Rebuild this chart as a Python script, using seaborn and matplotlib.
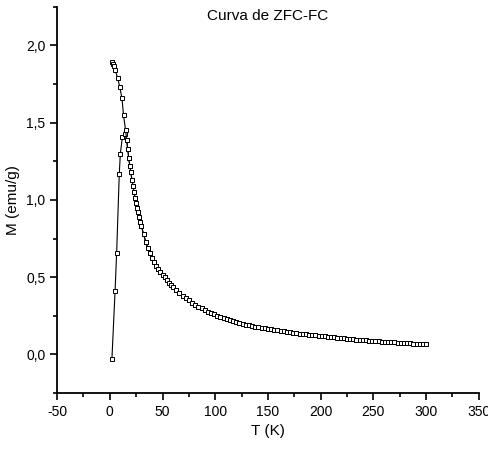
import numpy as np
import pandas as pd
import matplotlib
matplotlib.use("Agg")
import matplotlib.pyplot as plt
import seaborn as sns
from matplotlib.ticker import FuncFormatter, MultipleLocator

# ==============================
# DATA
# ==============================
# ZFC, low temperature branch (below the blocking peak)
T_zfc_low = [2, 5, 6.5, 9, 10, 12, 14]
M_zfc_low = [-0.03, 0.41, 0.66, 1.17, 1.30, 1.41, 1.43]

# FC, low temperature branch
T_fc_low = [2, 2.6, 4, 5, 7.5, 9.5, 11.5, 13, 15]
M_fc_low = [1.89, 1.88, 1.87, 1.84, 1.79, 1.73, 1.66, 1.55, 1.45]

# common tail where ZFC and FC overlap
T_tail = [16, 17, 18, 19, 20, 21, 22, 23, 24, 25, 26, 27, 28, 29, 30,
          32, 34, 36, 38, 40, 42, 44, 46, 48, 50, 52, 54, 56, 58, 60,
          63, 66, 69, 72, 75, 78, 81, 84, 87, 90, 93, 96, 99, 102, 105,
          108, 111, 114, 117, 120, 123, 126, 129, 132, 135, 138, 141, 144,
          147, 150, 153, 156, 159, 162, 165, 168, 171, 174, 177, 180, 183,
          186, 189, 192, 195, 198, 201, 204, 207, 210, 213, 216, 219, 222,
          225, 228, 231, 234, 237, 240, 243, 246, 249, 252, 255, 258, 261,
          264, 267, 270, 273, 276, 279, 282, 285, 288, 291, 294, 297, 300]
M_tail = [1.39, 1.33, 1.27, 1.22, 1.18, 1.13, 1.09, 1.05, 1.01, 0.98, 0.95,
          0.92, 0.89, 0.86, 0.83,
          0.78, 0.73, 0.69, 0.655, 0.625, 0.60, 0.575, 0.555, 0.535, 0.515,
          0.50, 0.48, 0.465, 0.45, 0.435,
          0.415, 0.40, 0.38, 0.365, 0.35, 0.335, 0.322, 0.31, 0.298, 0.288,
          0.278, 0.268, 0.259, 0.250, 0.242, 0.235, 0.228, 0.221, 0.215,
          0.209, 0.204, 0.199, 0.194, 0.189, 0.185, 0.181, 0.177, 0.173,
          0.169, 0.166, 0.162, 0.159, 0.156, 0.153, 0.150, 0.147, 0.144,
          0.141, 0.138, 0.135, 0.132, 0.130, 0.127, 0.125, 0.123, 0.121,
          0.119, 0.117, 0.115, 0.113, 0.111, 0.109, 0.107, 0.105, 0.103,
          0.101, 0.099, 0.097, 0.095, 0.094, 0.092, 0.090, 0.089, 0.087,
          0.086, 0.084, 0.083, 0.081, 0.080, 0.078, 0.077, 0.076, 0.074,
          0.073, 0.072, 0.071, 0.069, 0.068, 0.067, 0.066]

zfc = pd.DataFrame({"T": T_zfc_low + T_tail, "M": M_zfc_low + M_tail})
fc = pd.DataFrame({"T": T_fc_low + T_tail, "M": M_fc_low + M_tail})

# ==============================
# STYLE
# ==============================
sns.set_style("ticks")
plt.rcParams['font.family'] = ['Liberation Sans', 'DejaVu Sans']
plt.rcParams.update({"text.color": "black", "axes.labelcolor": "black",
                     "xtick.color": "black", "ytick.color": "black",
                     "axes.edgecolor": "black"})

fig = plt.figure(figsize=(4.88, 4.55), dpi=100)
ax = fig.add_axes([0.117, 0.136, 0.864, 0.849])

style = dict(color="black", linewidth=0.8, marker="s", markersize=3.2,
             markerfacecolor="white", markeredgecolor="black",
             markeredgewidth=0.7)

sns.lineplot(data=zfc, x="T", y="M", sort=False, estimator=None, ax=ax, **style)
sns.lineplot(data=fc, x="T", y="M", sort=False, estimator=None, ax=ax, **style)

ax.set_xlim(-50, 350)
ax.set_ylim(-0.25, 2.25)
ax.xaxis.set_major_locator(MultipleLocator(50))
ax.xaxis.set_minor_locator(MultipleLocator(25))
ax.yaxis.set_major_locator(MultipleLocator(0.5))
ax.yaxis.set_minor_locator(MultipleLocator(0.25))
ax.xaxis.set_major_formatter(FuncFormatter(lambda v, p: f"{v:g}"))
ax.yaxis.set_major_formatter(FuncFormatter(lambda v, p: f"{v:.1f}".replace(".", ",")))

ax.tick_params(which="major", direction="out", length=5, width=1.2, labelsize=10)
ax.tick_params(which="minor", direction="out", length=3, width=1.2)

for s in ["top", "right"]:
    ax.spines[s].set_visible(False)
for s in ["left", "bottom"]:
    ax.spines[s].set_linewidth(1.3)

ax.set_xlabel("T (K)", fontsize=11)
ax.set_ylabel("M (emu/g)", fontsize=11)
ax.text(0.5, 0.995, "Curva de ZFC-FC", transform=ax.transAxes,
        ha="center", va="top", fontsize=11)

fig.savefig("out.png", dpi=100)
